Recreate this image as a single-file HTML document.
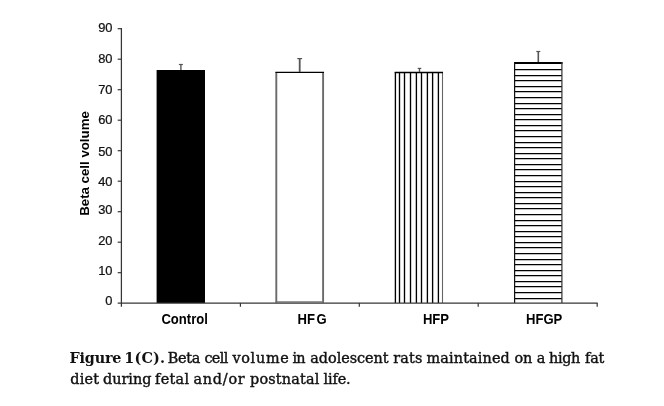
<!DOCTYPE html>
<html><head><meta charset="utf-8"><title>Figure 1(C)</title>
<style>
html,body{margin:0;padding:0;background:#fff;}
body{width:664px;height:406px;position:relative;overflow:hidden;}
svg{position:absolute;left:0;top:0;}
.yt{font-family:"Liberation Sans",Arial,sans-serif;stroke:#111;stroke-width:0.25px;fill:#111;text-anchor:end;}
.xl{font-family:"Liberation Sans",Arial,sans-serif;font-weight:bold;fill:#000;}
.cap{position:absolute;left:0;top:0;width:664px;height:406px;font-family:"DejaVu Serif","Liberation Serif",serif;font-size:14.4px;line-height:20px;color:#111;white-space:nowrap;-webkit-text-stroke:0.4px #111;}
.ln{position:absolute;left:0;width:664px;height:20px;}
.ln span,.ln b{position:absolute;top:0;}
.ln b{font-weight:bold;-webkit-text-stroke:0;}
</style></head><body>
<svg width="664" height="406" viewBox="0 0 664 406">

<rect x="156.6" y="70" width="48.4" height="233" fill="#000"/>
<rect x="276.2" y="72.3" width="47" height="230" fill="#fff"/>
<line x1="276.3" y1="72.3" x2="276.3" y2="302.6" stroke="#6a6a6a" stroke-width="1.9"/>
<line x1="323.1" y1="72.3" x2="323.1" y2="302.6" stroke="#6a6a6a" stroke-width="1.9"/>
<line x1="275.4" y1="301.9" x2="324" y2="301.9" stroke="#777" stroke-width="1.2"/>
<line x1="275.4" y1="72.3" x2="324" y2="72.3" stroke="#000" stroke-width="1.3"/>
<rect x="395.2" y="72.2" width="47.4" height="230.8" fill="#fff"/>
<line x1="395.40" y1="72.2" x2="395.40" y2="303" stroke="#000" stroke-width="1.35"/>
<line x1="399.50" y1="72.2" x2="399.50" y2="303" stroke="#000" stroke-width="1.35"/>
<line x1="404.50" y1="72.2" x2="404.50" y2="303" stroke="#000" stroke-width="1.35"/>
<line x1="410.50" y1="72.2" x2="410.50" y2="303" stroke="#000" stroke-width="1.35"/>
<line x1="416.40" y1="72.2" x2="416.40" y2="303" stroke="#000" stroke-width="1.35"/>
<line x1="421.50" y1="72.2" x2="421.50" y2="303" stroke="#000" stroke-width="1.35"/>
<line x1="427.40" y1="72.2" x2="427.40" y2="303" stroke="#000" stroke-width="1.35"/>
<line x1="432.60" y1="72.2" x2="432.60" y2="303" stroke="#000" stroke-width="1.35"/>
<line x1="438.40" y1="72.2" x2="438.40" y2="303" stroke="#000" stroke-width="1.35"/>
<line x1="442.5" y1="72.2" x2="442.5" y2="303" stroke="#666" stroke-width="1.1"/>
<line x1="394.7" y1="72.5" x2="443" y2="72.5" stroke="#000" stroke-width="1.3"/>
<rect x="514.6" y="63" width="47.3" height="240" fill="#fff"/>
<line x1="514.6" y1="69.55" x2="561.9" y2="69.55" stroke="#000" stroke-width="1.25"/>
<line x1="514.6" y1="75.55" x2="561.9" y2="75.55" stroke="#000" stroke-width="1.25"/>
<line x1="514.6" y1="80.55" x2="561.9" y2="80.55" stroke="#000" stroke-width="1.25"/>
<line x1="514.6" y1="86.55" x2="561.9" y2="86.55" stroke="#000" stroke-width="1.25"/>
<line x1="514.6" y1="91.55" x2="561.9" y2="91.55" stroke="#000" stroke-width="1.25"/>
<line x1="514.6" y1="97.55" x2="561.9" y2="97.55" stroke="#000" stroke-width="1.25"/>
<line x1="514.6" y1="103.55" x2="561.9" y2="103.55" stroke="#000" stroke-width="1.25"/>
<line x1="514.6" y1="108.55" x2="561.9" y2="108.55" stroke="#000" stroke-width="1.25"/>
<line x1="514.6" y1="114.55" x2="561.9" y2="114.55" stroke="#000" stroke-width="1.25"/>
<line x1="514.6" y1="119.55" x2="561.9" y2="119.55" stroke="#000" stroke-width="1.25"/>
<line x1="514.6" y1="125.55" x2="561.9" y2="125.55" stroke="#000" stroke-width="1.25"/>
<line x1="514.6" y1="130.55" x2="561.9" y2="130.55" stroke="#000" stroke-width="1.25"/>
<line x1="514.6" y1="136.55" x2="561.9" y2="136.55" stroke="#000" stroke-width="1.25"/>
<line x1="514.6" y1="142.55" x2="561.9" y2="142.55" stroke="#000" stroke-width="1.25"/>
<line x1="514.6" y1="147.55" x2="561.9" y2="147.55" stroke="#000" stroke-width="1.25"/>
<line x1="514.6" y1="153.55" x2="561.9" y2="153.55" stroke="#000" stroke-width="1.25"/>
<line x1="514.6" y1="158.55" x2="561.9" y2="158.55" stroke="#000" stroke-width="1.25"/>
<line x1="514.6" y1="164.55" x2="561.9" y2="164.55" stroke="#000" stroke-width="1.25"/>
<line x1="514.6" y1="169.55" x2="561.9" y2="169.55" stroke="#000" stroke-width="1.25"/>
<line x1="514.6" y1="175.55" x2="561.9" y2="175.55" stroke="#000" stroke-width="1.25"/>
<line x1="514.6" y1="181.55" x2="561.9" y2="181.55" stroke="#000" stroke-width="1.25"/>
<line x1="514.6" y1="186.55" x2="561.9" y2="186.55" stroke="#000" stroke-width="1.25"/>
<line x1="514.6" y1="192.55" x2="561.9" y2="192.55" stroke="#000" stroke-width="1.25"/>
<line x1="514.6" y1="197.55" x2="561.9" y2="197.55" stroke="#000" stroke-width="1.25"/>
<line x1="514.6" y1="203.55" x2="561.9" y2="203.55" stroke="#000" stroke-width="1.25"/>
<line x1="514.6" y1="208.55" x2="561.9" y2="208.55" stroke="#000" stroke-width="1.25"/>
<line x1="514.6" y1="214.55" x2="561.9" y2="214.55" stroke="#000" stroke-width="1.25"/>
<line x1="514.6" y1="220.55" x2="561.9" y2="220.55" stroke="#000" stroke-width="1.25"/>
<line x1="514.6" y1="225.55" x2="561.9" y2="225.55" stroke="#000" stroke-width="1.25"/>
<line x1="514.6" y1="231.55" x2="561.9" y2="231.55" stroke="#000" stroke-width="1.25"/>
<line x1="514.6" y1="236.55" x2="561.9" y2="236.55" stroke="#000" stroke-width="1.25"/>
<line x1="514.6" y1="242.55" x2="561.9" y2="242.55" stroke="#000" stroke-width="1.25"/>
<line x1="514.6" y1="247.55" x2="561.9" y2="247.55" stroke="#000" stroke-width="1.25"/>
<line x1="514.6" y1="253.55" x2="561.9" y2="253.55" stroke="#000" stroke-width="1.25"/>
<line x1="514.6" y1="259.55" x2="561.9" y2="259.55" stroke="#000" stroke-width="1.25"/>
<line x1="514.6" y1="264.55" x2="561.9" y2="264.55" stroke="#000" stroke-width="1.25"/>
<line x1="514.6" y1="270.55" x2="561.9" y2="270.55" stroke="#000" stroke-width="1.25"/>
<line x1="514.6" y1="275.55" x2="561.9" y2="275.55" stroke="#000" stroke-width="1.25"/>
<line x1="514.6" y1="281.55" x2="561.9" y2="281.55" stroke="#000" stroke-width="1.25"/>
<line x1="514.6" y1="286.55" x2="561.9" y2="286.55" stroke="#000" stroke-width="1.25"/>
<line x1="514.6" y1="292.55" x2="561.9" y2="292.55" stroke="#000" stroke-width="1.25"/>
<line x1="514.6" y1="298.55" x2="561.9" y2="298.55" stroke="#000" stroke-width="1.25"/>
<line x1="514" y1="63" x2="562.5" y2="63" stroke="#000" stroke-width="2.2"/>
<line x1="514.6" y1="62" x2="514.6" y2="303" stroke="#111" stroke-width="1.2"/>
<line x1="561.9" y1="62" x2="561.9" y2="303" stroke="#333" stroke-width="1.2"/>
<line x1="180.9" y1="64.5" x2="180.9" y2="70.0" stroke="#555" stroke-width="1.4"/>
<line x1="178.9" y1="64.5" x2="182.9" y2="64.5" stroke="#555" stroke-width="1.2"/>
<line x1="299.7" y1="58.6" x2="299.7" y2="72.0" stroke="#555" stroke-width="1.8"/>
<line x1="297.3" y1="58.6" x2="302.1" y2="58.6" stroke="#555" stroke-width="1.2"/>
<line x1="419.5" y1="68.4" x2="419.5" y2="72.0" stroke="#555" stroke-width="1.4"/>
<line x1="417.7" y1="68.4" x2="421.3" y2="68.4" stroke="#555" stroke-width="1.2"/>
<line x1="538.3" y1="51.5" x2="538.3" y2="62.0" stroke="#555" stroke-width="1.6"/>
<line x1="536.3" y1="51.5" x2="540.3" y2="51.5" stroke="#555" stroke-width="1.2"/>
<line x1="121.40" y1="28.1" x2="121.40" y2="306.7" stroke="#363636" stroke-width="1.25"/>
<line x1="117.7" y1="303.20" x2="597.6" y2="303.20" stroke="#363636" stroke-width="1.2"/>
<text class="yt" transform="translate(112.50,304.90) scale(0.940,1.000)" font-size="13.70">0</text>
<line x1="117.7" y1="272.70" x2="121.40" y2="272.70" stroke="#363636" stroke-width="1.2"/>
<text class="yt" transform="translate(112.50,275.20) scale(0.940,1.000)" font-size="13.70">10</text>
<line x1="117.7" y1="242.20" x2="121.40" y2="242.20" stroke="#363636" stroke-width="1.2"/>
<text class="yt" transform="translate(112.50,245.30) scale(0.940,1.000)" font-size="13.70">20</text>
<line x1="117.7" y1="211.70" x2="121.40" y2="211.70" stroke="#363636" stroke-width="1.2"/>
<text class="yt" transform="translate(112.50,214.40) scale(0.940,1.000)" font-size="13.70">30</text>
<line x1="117.7" y1="181.20" x2="121.40" y2="181.20" stroke="#363636" stroke-width="1.2"/>
<text class="yt" transform="translate(112.50,185.70) scale(0.940,1.000)" font-size="13.70">40</text>
<line x1="117.7" y1="150.70" x2="121.40" y2="150.70" stroke="#363636" stroke-width="1.2"/>
<text class="yt" transform="translate(112.50,155.50) scale(0.940,1.000)" font-size="13.70">50</text>
<line x1="117.7" y1="120.20" x2="121.40" y2="120.20" stroke="#363636" stroke-width="1.2"/>
<text class="yt" transform="translate(112.50,124.40) scale(0.940,1.000)" font-size="13.70">60</text>
<line x1="117.7" y1="89.70" x2="121.40" y2="89.70" stroke="#363636" stroke-width="1.2"/>
<text class="yt" transform="translate(112.50,94.20) scale(0.940,1.000)" font-size="13.70">70</text>
<line x1="117.7" y1="59.20" x2="121.40" y2="59.20" stroke="#363636" stroke-width="1.2"/>
<text class="yt" transform="translate(112.50,63.00) scale(0.940,1.000)" font-size="13.70">80</text>
<line x1="117.7" y1="28.70" x2="121.40" y2="28.70" stroke="#363636" stroke-width="1.2"/>
<text class="yt" transform="translate(112.50,32.40) scale(0.940,1.000)" font-size="13.70">90</text>
<line x1="240.4" y1="303" x2="240.4" y2="306.7" stroke="#363636" stroke-width="1.2"/>
<line x1="359.3" y1="303" x2="359.3" y2="306.7" stroke="#363636" stroke-width="1.2"/>
<line x1="478.2" y1="303" x2="478.2" y2="306.7" stroke="#363636" stroke-width="1.2"/>
<line x1="597.2" y1="303" x2="597.2" y2="306.7" stroke="#363636" stroke-width="1.2"/>
<text class="xl" transform="translate(161.40,323.80) scale(0.915,1.000)" font-size="14.30">Control</text>
<text class="xl" transform="translate(297.60,323.80) scale(0.915,1.000)" font-size="14.30">HF<tspan dx="1.6">G</tspan></text>
<text class="xl" transform="translate(422.90,323.80) scale(0.915,1.000)" font-size="14.30">HFP</text>
<text class="xl" transform="translate(526.00,323.80) scale(0.915,1.000)" font-size="14.30">HFGP</text>
<text class="xl" transform="translate(88.90,215.80) rotate(-90) scale(0.975,1.000)" font-size="13.60">Beta cell volume</text>
</svg>

<div class="cap"><div class="ln" style="top:348.0px"><b style="left:69.50px;letter-spacing:-0.200px">Figure</b> <b style="left:124.30px;letter-spacing:0.150px">1(C).</b> <span style="left:167.70px;letter-spacing:-0.300px">Beta</span> <span style="left:204.40px;letter-spacing:-0.633px">cell</span> <span style="left:232.40px;letter-spacing:0.720px">volume</span> <span style="left:292.50px;letter-spacing:-0.800px">in</span> <span style="left:310.30px;letter-spacing:-0.033px">adolescent</span> <span style="left:393.20px;letter-spacing:0.167px">rats</span> <span style="left:426.50px;letter-spacing:0.133px">maintained</span> <span style="left:514.50px;letter-spacing:-0.100px">on</span> <span style="left:536.70px;letter-spacing:0.000px">a</span> <span style="left:549.00px;letter-spacing:-0.333px">high</span> <span style="left:585.00px;letter-spacing:-0.150px">fat</span></div>
<div class="ln" style="top:368.5px"><span style="left:70.30px;letter-spacing:0.167px">diet</span> <span style="left:102.90px;letter-spacing:0.040px">during</span> <span style="left:155.10px;letter-spacing:0.300px">fetal</span> <span style="left:193.50px;letter-spacing:0.760px">and/or</span> <span style="left:250.00px;letter-spacing:0.188px">postnatal</span> <span style="left:323.50px;letter-spacing:-0.125px">life.</span></div></div>

</body></html>
